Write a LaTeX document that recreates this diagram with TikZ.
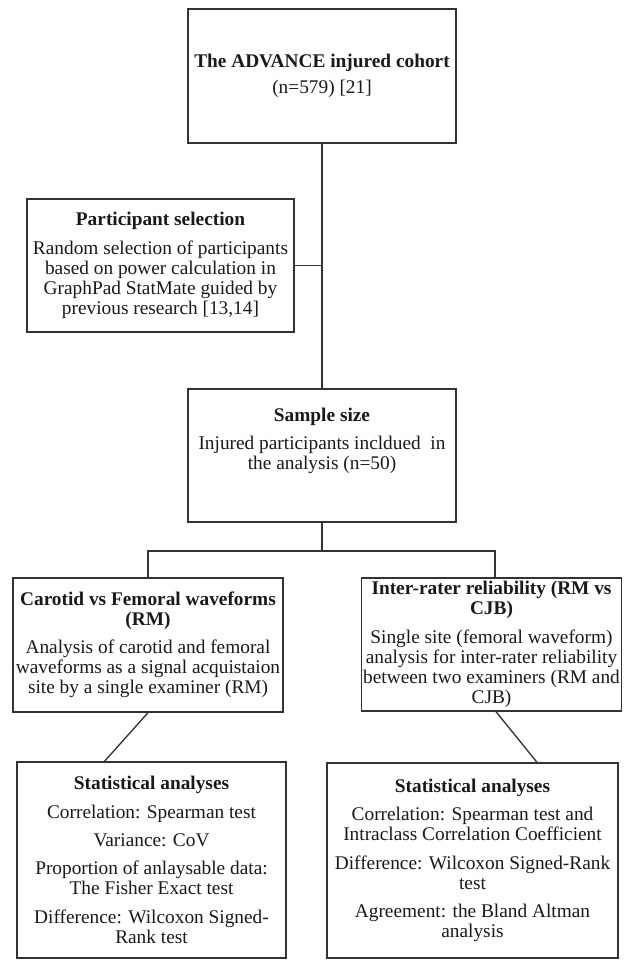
\documentclass[tikz,border=0pt]{standalone}
\usepackage{fontspec}
\setmainfont{Liberation Serif}
\usetikzlibrary{positioning,calc}

\begin{document}
\begin{tikzpicture}[
    x=0.6pt, y=-0.6pt,
    font=\fontsize{11.6}{12}\selectfont,
    flowbox/.style={rectangle, draw=black!80, line width=0.8pt, inner sep=1pt, align=center, text=black!90},
    link/.style={draw=black!80, line width=0.8pt}
]
\useasboundingbox (0,0) rectangle (623,960);

% Cohort
\node[flowbox, minimum width=160.8pt, minimum height=80.4pt] (cohort) at (322,76) {\textbf{The ADVANCE injured cohort}\\[4pt](n=579) [21]};

% Participant selection
\node[flowbox, minimum width=160.2pt, minimum height=79.8pt] (select) at (160.5,265.5) {\textbf{Participant selection}\\[5pt]Random selection of participants\\based on power calculation in\\GraphPad StatMate guided by\\previous research [13,14]};

% Sample size
\node[flowbox, minimum width=160.8pt, minimum height=79.8pt] (sample) at (322,455.5) {\parbox[c][57pt][t]{155pt}{\centering\textbf{Sample size}\\[5pt]Injured participants incldued\ \ in\\the analysis (n=50)}};

% Two branches
\node[flowbox, minimum width=162pt, minimum height=80.4pt] (carotid) at (148,645) {\textbf{Carotid vs Femoral waveforms}\\\textbf{(RM)}\\[5pt]Analysis of carotid and femoral\\waveforms as a signal acquistaion\\site by a single examiner (RM)};
\node[flowbox, minimum width=155.4pt, minimum height=79.8pt] (inter) at (491.5,644.5) {\textbf{Inter-rater reliability (RM vs}\\\textbf{CJB)}\\[5pt]Single site (femoral waveform)\\analysis for inter-rater reliability\\between two examiners (RM and\\CJB)};

% Statistical analyses
\node[flowbox, minimum width=161.4pt, minimum height=117.6pt] (statl) at (151.5,860) {\textbf{Statistical analyses}\\[5pt]Correlation: Spearman test\\[5pt]Variance: CoV\\[5pt]Proportion of anlaysable data:\\The Fisher Exact test\\[5pt]Difference: Wilcoxon Signed-\\Rank test};
\node[flowbox, minimum width=174.6pt, minimum height=117pt] (statr) at (472.5,860.5) {\textbf{Statistical analyses}\\[5pt]Correlation: Spearman test and\\Intraclass Correlation Coefficient\\[5pt]Difference: Wilcoxon Signed-Rank\\test\\[5pt]Agreement: the Bland Altman\\analysis};

% Lines
\draw[link] (cohort) -- (sample);
\draw[link] (select.east) -- (select.east -| cohort.south);

\coordinate (split) at (322,551);
\draw[link] (sample) -- (split);
\draw[link] (carotid.north) |- (split) -| ([xshift=2.1pt]inter.north);

\draw[link] (carotid.south) -- ([xshift=-28.2pt]statl.north);
\draw[link] ([xshift=2.7pt]inter.south) -- ([xshift=38.7pt]statr.north);

\end{tikzpicture}
\end{document}
